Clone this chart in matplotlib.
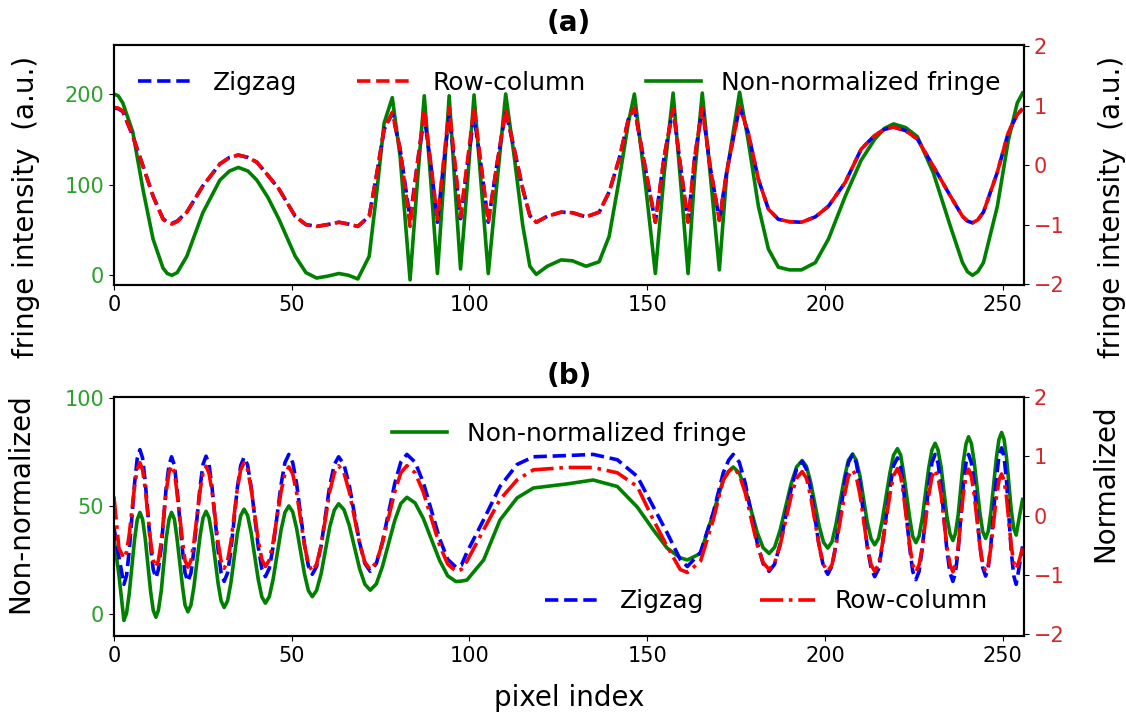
import matplotlib
matplotlib.use("Agg")
import matplotlib.pyplot as plt

# ---- panel (a): values ----
x_a = [0, 1.2, 2.5, 5.3, 8.2, 11, 13.8, 15, 16.3, 17.8, 20.5, 25, 29.8, 32.5, 35, 37.7, 40.2, 43.3, 46.4, 51, 54, 57, 60,
       63.3, 66, 68.6, 71.8, 74, 76, 78.3, 80.5, 83.3, 85.3, 87.3, 89.2, 91, 92.7, 94.3,
       95.9, 97.5, 99.4, 101.3, 103.3, 105.3, 107.7, 110.2, 112.6, 115, 117, 118.8, 121.9,
       125.8, 129, 132.8, 136.5, 139.3, 142.1, 144.7, 146.4, 149.7, 152.3, 154.8, 157.3,
       159.6, 161.5, 163.4, 165.5, 167.7, 170.3, 172.4, 176, 178.4, 181.3, 184.1, 186.9,
       190, 193.4, 197.3, 201, 205.7, 210.2, 214, 216.7, 219.3, 222.7, 226, 230.5, 235.3, 238.7, 240.1, 241.5,
       243, 244.6, 248.5, 251.6, 254.1, 255.6]
green_a = [200, 198, 190, 158, 94, 40, 8, 2, 0, 3, 21, 69, 105, 115, 119, 115, 105, 86, 62, 21, 3, -3, -1,
           2, 0, -4, 21, 94, 168, 196, 131, -5, 100, 198, 100, 2, 100, 198,
           100, 7, 100, 199, 100, 2, 100, 200, 131, 55, 10, 1, 10,
           17, 16, 10, 15, 43, 105, 168, 200, 94, 2, 113, 201,
           94, 2, 113, 201, 113, 6, 113, 202, 149, 76, 29, 9,
           6, 6, 14, 40, 87, 127, 150, 162, 167, 163, 153, 113, 54, 14, 4, 0,
           4, 14, 76, 149, 190, 201]
zigzag_a = [0.96, 0.95, 0.9, 0.49, -0.02, -0.52, -0.9, -0.96, -0.98, -0.94, -0.79, -0.35, 0.02, 0.13, 0.17, 0.13, 0.05, -0.17, -0.4, -0.86, -1.0, -1.03, -1.0,
            -0.96, -0.99, -1.03, -0.86, -0.12, 0.6, 0.87, 0.27, -0.9, 0.0, 0.82, -0.02, -0.96, 0.0, 0.85,
            0.0, -0.9, 0.0, 0.82, -0.02, -0.96, 0.0, 0.9, 0.27, -0.4, -0.85, -0.96, -0.86,
            -0.79, -0.8, -0.87, -0.79, -0.45, 0.1, 0.77, 0.95, -0.12, -0.96, 0.15, 0.95,
            -0.12, -0.95, 0.15, 0.96, -0.02, -0.92, -0.1, 0.98, 0.55, -0.24, -0.74, -0.91,
            -0.95, -0.96, -0.87, -0.69, -0.29, 0.27, 0.5, 0.6, 0.64, 0.58, 0.44, -0.02, -0.52, -0.86, -0.94, -0.97,
            -0.92, -0.79, -0.12, 0.55, 0.85, 0.95]
rowcol_a = [0.97, 0.96, 0.91, 0.49, -0.02, -0.52, -0.91, -0.97, -0.99, -0.95, -0.79, -0.35, 0.02, 0.13, 0.17, 0.13, 0.05, -0.17, -0.4, -0.86, -1.0, -1.03, -1.0,
            -0.96, -0.99, -1.03, -0.86, -0.12, 0.61, 0.89, 0.27, -1.03, 0.0, 0.93, 0.0, -0.91, 0.05, 0.97,
            0.05, -0.87, 0.05, 0.97, 0.0, -0.96, 0.0, 0.94, 0.27, -0.4, -0.85, -0.96, -0.86,
            -0.79, -0.8, -0.87, -0.79, -0.45, 0.1, 0.77, 0.96, -0.12, -0.96, 0.15, 0.95,
            -0.12, -0.96, 0.15, 0.97, -0.02, -0.93, -0.1, 0.99, 0.55, -0.24, -0.74, -0.91,
            -0.95, -0.96, -0.87, -0.69, -0.29, 0.27, 0.5, 0.6, 0.64, 0.58, 0.44, -0.02, -0.52, -0.86, -0.94, -0.97,
            -0.92, -0.79, -0.12, 0.55, 0.85, 0.95]

# ---- panel (b) ----
x_b = [0, 1.4, 2.8,
       3.55, 4.3, 5.8, 6.55, 7.3,
       8.05, 8.8, 10.3, 11.05, 11.8,
       12.5, 13.3, 14.7, 15.5, 16.2,
       17.0, 17.7, 19.3, 20.0, 20.8,
       21.65, 22.5, 24.2, 25.05, 25.9,
       26.75, 27.6, 29.3, 30.15, 31.0,
       31.95, 32.9, 34.7, 35.65, 36.6,
       37.6, 38.6, 40.6, 41.6, 42.6,
       43.7, 44.8, 47.0, 48.1, 49.2,
       50.3, 51.4, 53.6, 54.7, 55.8,
       57.0, 58.3, 60.7, 62.0, 63.2,
       64.7, 66.2, 69.1, 70.6, 72.1,
       73.8, 75.5, 79.0, 80.7, 82.4,
       84.7, 87.0, 91.6, 93.9, 96.2,
       97.7, 99.3, 104, 108.6, 113.4, 118, 127.5, 134.8, 141.6, 147.2, 151.7, 155.6,
       159.3, 161.3, 165, 168.6, 171.4, 172.9, 174.2,
       175.9, 177.6, 180.9, 182.6, 184.3,
       185.85, 187.4, 190.5, 192.05, 193.6,
       194.8, 196.0, 198.4, 199.6, 200.8,
       202.0, 203.1, 205.5, 206.6, 207.8,
       208.8, 209.9, 211.9, 213.0, 214.0,
       215.1, 216.1, 218.3, 219.3, 220.4,
       221.3, 222.1, 223.9, 224.7, 225.6,
       226.5, 227.4, 229.2, 230.1, 231.0,
       231.8, 232.7, 234.3, 235.2, 236.0,
       236.7, 237.5, 238.9, 239.7, 240.4,
       241.2, 242.0, 243.6, 244.4, 245.2,
       245.95, 246.7, 248.2, 248.95, 249.7,
       250.4, 251.1, 252.4, 253.1, 253.8,
       254.7, 255.6]
green_b = [35, 18, -3,
           0.4, 9.5, 34.5, 43.6, 47,
           43.8, 34.9, 10.6, 1.7, -1.5,
           1.7, 10.6, 34.9, 43.8, 47,
           43.9, 35.5, 12.5, 4.1, 1,
           4.1, 12.6, 35.9, 44.4, 47.5,
           44.5, 36.4, 14.1, 6.0, 3,
           6.0, 14.4, 37.1, 45.5, 48.5,
           45.6, 37.6, 15.9, 7.9, 5,
           8.0, 16.3, 38.8, 47.0, 50,
           47.2, 39.5, 18.5, 10.8, 8,
           10.9, 18.8, 40.3, 48.1, 51,
           48.3, 41, 21, 13.7, 11,
           13.9, 21.8, 43.3, 51.1, 54,
           51.4, 44.3, 24.8, 17.6, 15,
           15.2, 15.7, 25, 43.5, 53.7, 58.3, 60.2, 62, 59, 49.5, 39, 30.5,
           26, 25, 28, 46.7, 62, 66, 68,
           65.3, 58, 38, 30.7, 28,
           30.9, 38.8, 60.3, 68.1, 71,
           68.3, 60.9, 40.6, 33.2, 30.5,
           33.4, 41.4, 63.1, 71.1, 74,
           71.2, 63.5, 42.5, 34.8, 32,
           35, 43.1, 65.4, 73.5, 76.5,
           73.6, 65.6, 43.9, 35.9, 33,
           36.1, 44.5, 67.5, 75.9, 79,
           76, 67.8, 45.3, 37, 34,
           37.2, 46, 70, 78.8, 82,
           78.9, 70.3, 46.8, 38.1, 35,
           38.3, 47.3, 71.8, 80.7, 84,
           80.8, 72.1, 48.4, 39.7, 36.5,
           45, 53]
zigzag_b = [-0.2, -0.7, -1.16,
            -1.01, -0.59, 0.54, 0.96, 1.11,
            0.97, 0.57, -0.51, -0.91, -1.05,
            -0.91, -0.54, 0.48, 0.85, 0.99,
            0.85, 0.47, -0.59, -0.97, -1.11,
            -0.97, -0.58, 0.47, 0.86, 1.0,
            0.86, 0.47, -0.58, -0.97, -1.11,
            -0.97, -0.59, 0.46, 0.84, 0.98,
            0.85, 0.48, -0.53, -0.9, -1.03,
            -0.89, -0.52, 0.52, 0.89, 1.03,
            0.89, 0.53, -0.49, -0.85, -0.99,
            -0.86, -0.5, 0.5, 0.86, 0.99,
            0.86, 0.51, -0.46, -0.81, -0.94,
            -0.81, -0.45, 0.54, 0.9, 1.03,
            0.9, 0.56, -0.39, -0.74, -0.87,
            -0.84, -0.62, -0.07, 0.49, 0.86, 0.99, 1.01, 1.03, 0.94, 0.66, 0.15, -0.29,
            -0.74, -0.86, -0.62, 0.05, 0.72, 0.93, 1.03,
            0.9, 0.54, -0.45, -0.81, -0.94,
            -0.82, -0.48, 0.45, 0.79, 0.91,
            0.78, 0.44, -0.52, -0.86, -0.99,
            -0.85, -0.49, 0.53, 0.89, 1.03,
            0.89, 0.52, -0.52, -0.89, -1.03,
            -0.9, -0.53, 0.47, 0.84, 0.97,
            0.83, 0.46, -0.57, -0.94, -1.08,
            -0.94, -0.55, 0.5, 0.89, 1.03,
            0.89, 0.5, -0.58, -0.97, -1.11,
            -0.97, -0.58, 0.5, 0.89, 1.03,
            0.89, 0.52, -0.51, -0.88, -1.02,
            -0.88, -0.48, 0.6, 1.0, 1.14,
            0.99, 0.57, -0.59, -1.01, -1.16,
            -0.85, -0.52]
rowcol_b = [0.32, -0.55, -0.72,
            -0.61, -0.32, 0.49, 0.78, 0.89,
            0.77, 0.45, -0.43, -0.75, -0.87,
            -0.76, -0.44, 0.41, 0.73, 0.84,
            0.73, 0.41, -0.44, -0.76, -0.87,
            -0.76, -0.45, 0.41, 0.72, 0.83,
            0.71, 0.4, -0.46, -0.77, -0.89,
            -0.77, -0.45, 0.45, 0.77, 0.89,
            0.77, 0.45, -0.42, -0.74, -0.86,
            -0.75, -0.44, 0.4, 0.71, 0.82,
            0.7, 0.38, -0.5, -0.82, -0.94,
            -0.82, -0.5, 0.4, 0.72, 0.84,
            0.72, 0.4, -0.47, -0.79, -0.91,
            -0.79, -0.47, 0.4, 0.72, 0.84,
            0.72, 0.4, -0.5, -0.82, -0.94,
            -0.91, -0.77, -0.24, 0.27, 0.6, 0.77, 0.81, 0.81, 0.72, 0.49, -0.07, -0.52,
            -0.91, -0.96, -0.77, -0.07, 0.6, 0.74, 0.81,
            0.69, 0.38, -0.48, -0.79, -0.91,
            -0.8, -0.5, 0.33, 0.63, 0.74,
            0.63, 0.32, -0.52, -0.83, -0.94,
            -0.83, -0.51, 0.34, 0.66, 0.77,
            0.66, 0.34, -0.51, -0.83, -0.94,
            -0.82, -0.51, 0.36, 0.67, 0.79,
            0.67, 0.36, -0.52, -0.83, -0.95,
            -0.83, -0.52, 0.34, 0.65, 0.77,
            0.65, 0.34, -0.52, -0.83, -0.95,
            -0.83, -0.52, 0.35, 0.66, 0.78,
            0.66, 0.35, -0.51, -0.82, -0.94,
            -0.83, -0.53, 0.29, 0.59, 0.7,
            0.59, 0.3, -0.5, -0.79, -0.9,
            -0.75, -0.55]

if __name__ == "__main__":
    plt.rcParams['font.family'] = 'DejaVu Sans'
    plt.rcParams['font.size'] = 15
    plt.rcParams['axes.linewidth'] = 1.5

    green_tick = '#2ca02c'
    red_tick = '#d62728'
    label_size = 20
    legend_size = 18

    fig = plt.figure(figsize=(11.26, 7.15), dpi=100)
    ax_a = fig.add_axes([0.1012, 0.601, 0.8082, 0.336])
    ax_b = fig.add_axes([0.1012, 0.1105, 0.8082, 0.3345])

    # (a)
    l_green, = ax_a.plot(x_a, green_a, color='green', lw=2.6)
    ax_a.set_ylim(-11, 254)
    ax_a.set_yticks([0, 100, 200])
    ax_a.set_xlim(0, 256)
    ax_a.tick_params(axis='y', labelcolor=green_tick)
    ax_a.set_ylabel('fringe intensity  (a.u.)', fontsize=label_size)
    ax_a.yaxis.set_label_coords(-0.081, 0.325)
    ax_a.set_title('(a)', fontweight='bold', fontsize=label_size, pad=10)
    ax_a2 = ax_a.twinx()
    l_zz, = ax_a2.plot(x_a, zigzag_a, 'b--', lw=2.6)
    l_rc, = ax_a2.plot(x_a, rowcol_a, 'r--', lw=2.6)
    ax_a2.set_ylim(-2.02, 2.02)
    ax_a2.set_yticks([-2, -1, 0, 1, 2])
    ax_a2.tick_params(axis='y', labelcolor=red_tick)
    ax_a2.set_ylabel('fringe intensity  (a.u.)', fontsize=label_size)
    ax_a2.yaxis.set_label_coords(1.081, 0.325)
    ax_a2.legend([l_zz, l_rc, l_green], ['Zigzag', 'Row-column', 'Non-normalized fringe'],
                 loc='upper center', ncol=3, frameon=False, fontsize=legend_size,
                 columnspacing=2.4, handlelength=2.2, bbox_to_anchor=(0.5, 0.985))

    # (b)
    g_b, = ax_b.plot(x_b, green_b, color='green', lw=2.6)
    ax_b.set_ylim(-10.2, 100.5)
    ax_b.set_yticks([0, 50, 100])
    ax_b.set_xlim(0, 256)
    ax_b.tick_params(axis='y', labelcolor=green_tick)
    ax_b.set_ylabel('Non-normalized', fontsize=label_size)
    ax_b.yaxis.set_label_coords(-0.088, 0.556)
    ax_b.set_xlabel('pixel index', fontsize=label_size, labelpad=13)
    ax_b.set_title('(b)', fontweight='bold', fontsize=label_size, pad=9)
    ax_b2 = ax_b.twinx()
    z_b, = ax_b2.plot(x_b, zigzag_b, 'b--', lw=2.6)
    r_b, = ax_b2.plot(x_b, rowcol_b, 'r-.', lw=2.6)
    ax_b2.set_ylim(-2.03, 2.0)
    ax_b2.set_yticks([-2, -1, 0, 1, 2])
    ax_b2.tick_params(axis='y', labelcolor=red_tick)
    ax_b2.set_ylabel('Normalized', fontsize=label_size)
    ax_b2.yaxis.set_label_coords(1.074, 0.64)
    leg1 = ax_b2.legend([g_b], ['Non-normalized fringe'], loc='upper center',
                        frameon=False, fontsize=legend_size, handlelength=2.2,
                        bbox_to_anchor=(0.5, 0.99))
    ax_b2.add_artist(leg1)
    ax_b2.legend([z_b, r_b], ['Zigzag', 'Row-column'], loc='lower right', ncol=2,
                 frameon=False, fontsize=legend_size, handlelength=2.2, columnspacing=2.2,
                 bbox_to_anchor=(0.985, 0.0))

    fig.savefig('out.png', dpi=100)
